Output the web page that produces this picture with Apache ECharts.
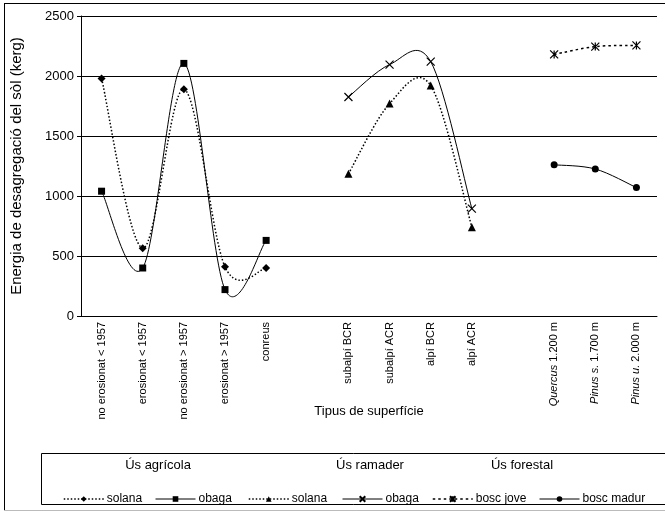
<!DOCTYPE html>
<html><head><meta charset="utf-8">
<script src="https://cdn.jsdelivr.net/npm/echarts@6/dist/echarts.min.js"></script>
<style>html,body{margin:0;padding:0;background:#fff}#c{width:665px;height:514px}</style>
</head><body><div id="c"></div>
<script>
const categories = ['no erosionat < 1957','erosionat < 1957','no erosionat > 1957','erosionat > 1957','conreus',' ','subalpí BCR','subalpí ACR','alpí BCR','alpí ACR','  ','Quercus 1.200 m','Pinus s. 1.700 m','Pinus u. 2.000 m'];
const italicParts = {'Quercus 1.200 m':['Quercus',' 1.200 m'],'Pinus s. 1.700 m':['Pinus s.',' 1.700 m'],'Pinus u. 2.000 m':['Pinus u.',' 2.000 m']};
const yTicks = [0, 500, 1000, 1500, 2000, 2500];
const groupTitles = ['Ús agrícola','Ús ramader','Ús forestal'];
const agriSolana = [1980, 565, 1890, 410, 400];
const agriObaga = [1040, 400, 2105, 220, 630];
const ramSolana = [1185, 1770, 1920, 740];
const ramObaga = [1825, 2095, 2120, 895];
const boscJove = [2180, 2245, 2255];
const boscMadur = [1260, 1225, 1070];
const legendLabels = {s1:'solana', o1:'obaga', s2:'solana', o2:'obaga', bj:'bosc jove', bm:'bosc madur'};

const FONT = 'Liberation Sans, Arial, sans-serif';
function place(vals, offset){ return vals.map((v,i)=>[offset+i, v]); }
const crossPath = 'path://M0,0L10,10M10,0L0,10';
const starPath = 'path://M0,0L10,10M10,0L0,10M5,0L5,10';
const DOT = [1.5, 2];
const DASH = [2.5, 3];

function markers(id, vals, off, symbol, size, stroke){
  return {
    name: id, type: 'line', data: place(vals, off),
    symbol: symbol, symbolSize: size,
    lineStyle: {opacity: 0},
    itemStyle: stroke ? {color:'transparent', borderColor:'#000', borderWidth:1.2} : {color:'#000', borderColor:'#000', borderWidth:0},
    emphasis: {disabled: true}, z: 4
  };
}
// Smooth curve through the data points (Excel-like Bezier), positioned by the chart's own scales
function curve(vals, off, dash, width){
  return {
    type: 'custom', silent: true, z: 3,
    data: [[off, vals[0]]],
    renderItem: function(params, api){
      const pts = vals.map((v,i)=>api.coord([off+i, v]));
      const n = pts.length;
      let d = 'M' + pts[0][0] + ',' + pts[0][1];
      for (let i = 0; i < n-1; i++){
        const p0 = pts[Math.max(i-1,0)], p1 = pts[i], p2 = pts[i+1], p3 = pts[Math.min(i+2,n-1)];
        const c1 = [p1[0] + (p2[0]-p0[0])/6, p1[1] + (p2[1]-p0[1])/6];
        const c2 = [p2[0] - (p3[0]-p1[0])/6, p2[1] - (p3[1]-p1[1])/6];
        d += 'C' + c1[0] + ',' + c1[1] + ',' + c2[0] + ',' + c2[1] + ',' + p2[0] + ',' + p2[1];
      }
      return {type:'path', shape:{pathData: d}, style:{fill:'none', stroke:'#000', lineWidth: width, lineDash: dash || null}};
    }
  };
}
function legendAt(name, left, dash){
  return {
    left: left, top: 493, itemWidth: 40, itemHeight: 7, padding: 0,
    data: [{name: name, lineStyle: {color:'#000', width: dash?1.5:1, type: dash ? dash : 'solid', opacity: 1}}],
    formatter: n => legendLabels[n],
    textStyle: {fontSize: 12, color: '#000', fontFamily: FONT, padding: [0,0,0,-2]},
    selectedMode: false
  };
}

const chart = echarts.init(document.getElementById('c'));
chart.setOption({
  animation: false,
  textStyle: {fontFamily: FONT, color: '#000'},
  grid: {left: 81, right: 8, top: 16, bottom: 198, containLabel: false, outerBoundsMode: 'none'},
  xAxis: {
    type: 'category', data: categories, boundaryGap: true,
    name: 'Tipus de superfície', nameLocation: 'middle', nameGap: 89, nameMoveOverlap: false,
    nameTextStyle: {fontSize: 13, color: '#000', fontFamily: FONT},
    axisLine: {lineStyle: {color: '#000', width: 1}},
    axisTick: {interval: 0, length: 5, lineStyle: {color: '#000'}},
    axisLabel: {
      interval: 0, rotate: 90, fontSize: 11, color: '#000', margin: 6, fontFamily: FONT,
      formatter: function(v){ const p = italicParts[v]; return p ? '{i|'+p[0]+'}'+p[1] : v.trim(); },
      rich: {i: {fontStyle: 'italic', fontSize: 11, fontFamily: FONT, color:'#000'}}
    },
    splitLine: {show: false}
  },
  yAxis: {
    type: 'value', min: yTicks[0], max: yTicks[yTicks.length-1], interval: 500,
    name: 'Energia de desagregació del sòl (kerg)', nameLocation: 'middle', nameGap: 57, nameMoveOverlap: false,
    nameTextStyle: {fontSize: 15, color: '#000', fontFamily: FONT},
    axisLine: {show: true, lineStyle: {color: '#000', width: 1}},
    axisTick: {show: true, length: 4, lineStyle: {color: '#000'}},
    axisLabel: {fontSize: 13, color: '#000', margin: 7, fontFamily: FONT, formatter: v => String(v)},
    splitLine: {show: true, lineStyle: {color: '#000', width: 1}}
  },
  legend: [
    legendAt('s1', 63, DOT),
    legendAt('o1', 155, null),
    legendAt('s2', 248, DOT),
    legendAt('o2', 342, null),
    legendAt('bj', 432, DASH),
    legendAt('bm', 539, null)
  ],
  graphic: [
    {type:'line', shape:{x1:4, y1:3.5, x2:670, y2:3.5}, style:{stroke:'#000', lineWidth:1}},
    {type:'line', shape:{x1:4.5, y1:3, x2:4.5, y2:510}, style:{stroke:'#000', lineWidth:1}},
    {type:'line', shape:{x1:4, y1:510.5, x2:670, y2:510.5}, style:{stroke:'#bbb', lineWidth:1}},
    {type:'rect', shape:{x:41.5, y:453.5, width:640, height:51}, style:{fill:'none', stroke:'#000', lineWidth:1}},
    {type:'text', x:158, y:465, style:{text:groupTitles[0], font:'13px '+FONT, fill:'#000', align:'center', verticalAlign:'middle'}},
    {type:'text', x:370, y:465, style:{text:groupTitles[1], font:'13px '+FONT, fill:'#000', align:'center', verticalAlign:'middle'}},
    {type:'text', x:522, y:465, style:{text:groupTitles[2], font:'13px '+FONT, fill:'#000', align:'center', verticalAlign:'middle'}}
  ],
  series: [
    curve(agriSolana, 0, DOT, 1.5),
    curve(agriObaga, 0, null, 1),
    curve(ramSolana, 6, DOT, 1.5),
    curve(ramObaga, 6, null, 1),
    curve(boscJove, 11, DASH, 1.5),
    curve(boscMadur, 11, null, 1),
    markers('s1', agriSolana, 0, 'diamond', 8, false),
    markers('o1', agriObaga, 0, 'rect', 7, false),
    markers('s2', ramSolana, 6, 'triangle', 8, false),
    markers('o2', ramObaga, 6, crossPath, 8, true),
    markers('bj', boscJove, 11, starPath, 8, true),
    markers('bm', boscMadur, 11, 'circle', 7, false)
  ]
});
</script></body></html>
